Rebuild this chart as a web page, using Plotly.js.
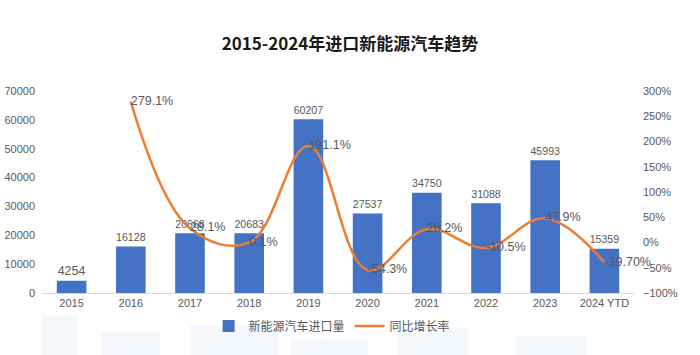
<!DOCTYPE html>
<html><head><meta charset="utf-8">
<script src="https://cdn.plot.ly/plotly-3.0.1.min.js"></script>
<style>html,body{margin:0;padding:0;background:#fff;}#c{width:700px;height:355px;}</style>
</head><body><div id="c"></div>
<script>
var categories = ['2015','2016','2017','2018','2019','2020','2021','2022','2023','2024 YTD'];
var importVolume = [4254,16128,20668,20683,60207,27537,34750,31088,45993,15359];
var yoyGrowth = [null,279.1,28.1,0.1,191.1,-54.3,26.2,-10.5,47.9,-39.7];
var yoyLabels = ['','279.1%','28.1%','0.1%','191.1%','-54.3%','26.2%','-10.5%','47.9%','-39.70%'];

var fontFam = 'Liberation Sans, Arial, "Noto Sans CJK SC", sans-serif';
var gray = '#595959';

var bars = {
  type:'bar', x:categories, y:importVolume, name:'新能源汽车进口量',
  marker:{color:'#4472C4'}, width:0.5,
  text:importVolume.map(String), textposition:'outside', cliponaxis:false,
  textfont:{color:gray, size:12.5, family:fontFam}, hoverinfo:'none'
};
var line = {
  type:'scatter', mode:'lines+text', x:categories, y:yoyGrowth, yaxis:'y2',
  name:'同比增长率', line:{color:'#ED7D31', width:2.5, shape:'spline', smoothing:1.1},
  text:yoyLabels, textposition:'middle right', cliponaxis:false,
  textfont:{color:gray, size:12.5, family:fontFam}, connectgaps:false, hoverinfo:'none'
};

var shapes = [];
var blocks = [[0.0,0.06,0.2],[0.1,0.2,0.12],[0.25,0.4,0.15],[0.42,0.55,0.08],[0.6,0.72,0.14],[0.8,0.92,0.1]];
blocks.forEach(function(b){
  shapes.push({type:'rect', xref:'paper', yref:'paper', x0:b[0], x1:b[1], y0:-0.31, y1:-0.31+b[2],
    fillcolor:'rgba(210,226,246,0.25)', line:{width:0}, layer:'below'});
});

var layout = {
  width:700, height:355,
  margin:{l:42, r:66, t:91, b:62},
  paper_bgcolor:'#ffffff', plot_bgcolor:'rgba(0,0,0,0)',
  title:{text:'<b>2015-2024年进口新能源汽车趋势</b>', x:0.5, xanchor:'center', y:0.875, yref:'container', yanchor:'middle',
    font:{size:17, color:'#1a1a1a', family:'"Noto Sans CJK SC", sans-serif'}},
  font:{family:fontFam, color:gray, size:11},
  xaxis:{type:'category', showgrid:false, showline:true, linecolor:'#d9d9d9', linewidth:1, ticks:'',
    tickfont:{size:11, color:gray}, fixedrange:true},
  yaxis:{range:[0,70000], dtick:10000, showgrid:false, zeroline:false, showline:false, ticks:'',
    tickfont:{size:11, color:gray}, tickformat:'d', ticklabelstandoff:6},
  yaxis2:{overlaying:'y', side:'right', range:[-100,300], dtick:50, ticksuffix:'%', showgrid:false,
    zeroline:false, showline:false, ticks:'', tickfont:{size:11, color:gray}, ticklabelstandoff:8},
  bargap:0.5,
  showlegend:true,
  legend:{orientation:'h', x:0.49, xanchor:'center', y:-0.163, yanchor:'middle',
    font:{size:12, color:gray, family:'"Noto Sans CJK SC", sans-serif'}, bgcolor:'rgba(0,0,0,0)', itemwidth:30},
  shapes:shapes
};

Plotly.newPlot('c',[bars,line],layout,{displayModeBar:false, staticPlot:true});
</script></body></html>
